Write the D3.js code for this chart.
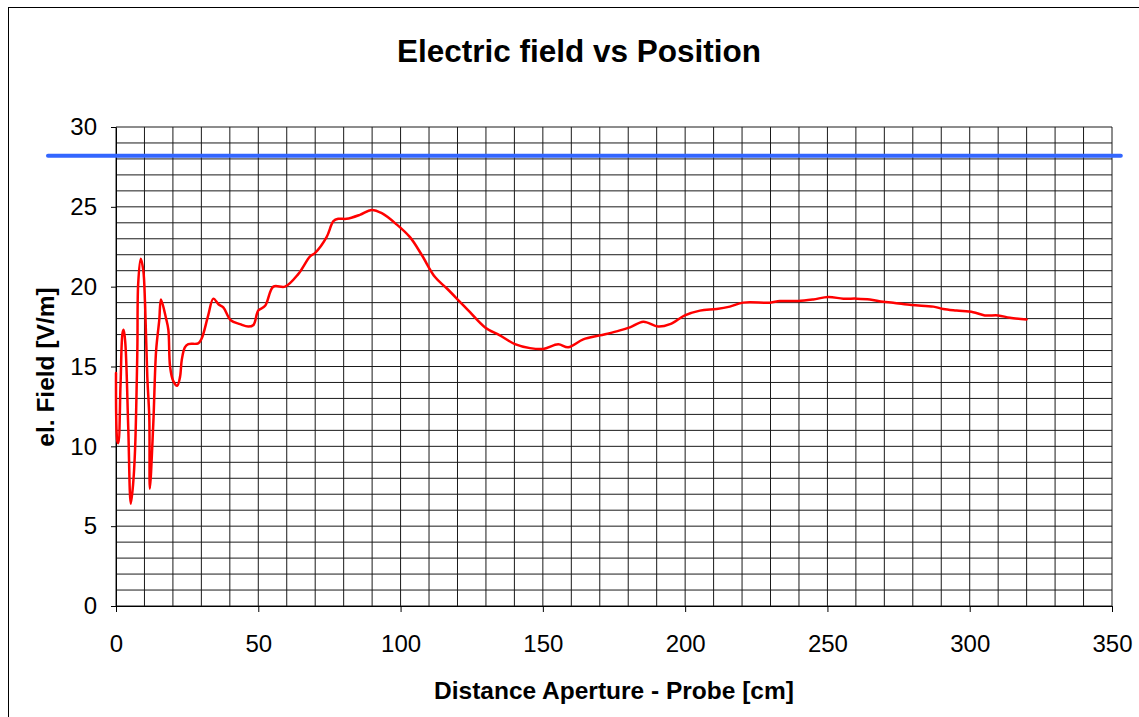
<!DOCTYPE html>
<html>
<head>
<meta charset="utf-8">
<script src="https://cdn.jsdelivr.net/npm/d3@7"></script>
<style>
  html, body { margin: 0; padding: 0; background: #fff; }
  svg { display: block; font-family: "Liberation Sans", Arial, sans-serif; }
</style>
</head>
<body>
<svg id="chart" width="1139" height="717"></svg>
<script>
// Measured field strength along the aperture-probe distance
const distanceCm = [
  0, 0.5, 0.8, 1.6, 2.3, 2.7, 3.3, 4.3, 5.2, 6.0, 6.7, 7.5, 7.8, 8.7, 9.6, 10.2, 11.0, 11.7, 11.9,
  13.1, 14.1, 15.2, 15.8, 17.6, 18.4, 19.0, 20.1, 21.5, 22.5, 23.1, 24.2, 25.4, 28.9, 30.1, 32.4,
  34.2, 36.0, 37.7, 40.3, 43.6, 46.5, 48.3, 50.0, 52.4, 55.3, 59.4, 64.1, 68.2, 69.9, 74.0, 76.4,
  78.1, 81.0, 85.7, 89.8, 93.4, 98.6, 103.3, 107.4, 112.1, 116.2, 120.6, 124.4, 129.7, 134.9,
  140.2, 145.5, 150.1, 155.4, 158.9, 164.2, 170.1, 175.9, 180.6, 185.3, 190.5, 194.7, 199.9,
  205.2, 211.1, 215.7, 220.4, 229.8, 233.3, 239.7, 245.0, 250.3, 255.6, 260.3, 264.9, 269.6,
  273.1, 279.6, 287.2, 290.7, 295.4, 301.2, 305.3, 310.0, 314.1, 320.0
];
const fieldVm = [
  14.6, 10.3, 10.2, 13.9, 17.1, 17.3, 16.4, 11.2, 6.4, 7.6, 9.8, 16.0, 20.2, 21.75, 21.0, 19.0, 14.35, 11.8, 7.35,
  11.4, 16.0, 17.9, 19.2, 18.0, 17.3, 15.0, 14.1, 13.8, 14.35, 15.4, 16.2, 16.4, 16.45, 16.75, 18.2,
  19.25, 18.9, 18.7, 17.9, 17.65, 17.5, 17.6, 18.5, 18.8, 20.0, 20.0, 20.8, 21.9, 22.1, 23.1, 24.1,
  24.25, 24.25, 24.5, 24.8, 24.6, 23.9, 23.1, 22.0, 20.6, 19.9, 19.1, 18.4, 17.45, 16.95,
  16.4, 16.15, 16.1, 16.4, 16.2, 16.7, 16.95, 17.2, 17.45, 17.8, 17.5, 17.65, 18.2,
  18.5, 18.6, 18.75, 19.0, 19.0, 19.1, 19.1, 19.2, 19.35, 19.25, 19.25, 19.2, 19.05,
  19.0, 18.85, 18.75, 18.6, 18.5, 18.4, 18.2, 18.2, 18.05, 17.95
];

// Reference limit line
const limitValue = 28.2;
const limitSpanCm = [-23.9, 353.1];

// Axis ticks
const xTicks = [0, 50, 100, 150, 200, 250, 300, 350];
const yTicks = [0, 5, 10, 15, 20, 25, 30];

const titleText = "Electric field vs Position";
const xLabelText = "Distance Aperture - Probe [cm]";
const yLabelText = "el. Field [V/m]";

const svg = d3.select("#chart");

const x = d3.scaleLinear().domain([0, 350]).range([116, 1112]);
const y = d3.scaleLinear().domain([0, 30]).range([606, 127]);

// Outer chart frame
svg.append("rect")
  .attr("x", 8.5).attr("y", 7.5)
  .attr("width", 1140).attr("height", 720)
  .attr("fill", "#fff").attr("stroke", "#000").attr("stroke-width", 1);

// Grid: every 10 cm and every 1 V/m
const grid = svg.append("g").attr("stroke", "#1a1a1a").attr("stroke-width", 1);
grid.selectAll("line.v").data(d3.range(0, 351, 10)).join("line")
  .attr("x1", d => x(d)).attr("x2", d => x(d))
  .attr("y1", y(0)).attr("y2", y(30));
grid.selectAll("line.h").data(d3.range(0, 31, 1)).join("line")
  .attr("x1", x(0)).attr("x2", x(350))
  .attr("y1", d => y(d)).attr("y2", d => y(d));

// Axes
const xAxis = d3.axisBottom(x).tickValues(xTicks).tickSizeInner(6).tickSizeOuter(0).tickPadding(23);
const yAxis = d3.axisLeft(y).tickValues(yTicks).tickSizeInner(5).tickSizeOuter(0).tickPadding(14);

const gx = svg.append("g").attr("transform", `translate(0,${y(0)})`).call(xAxis);
const gy = svg.append("g").attr("transform", `translate(${x(0)},0)`).call(yAxis);
[gx, gy].forEach(g => {
  g.select(".domain").attr("stroke", "#000").attr("stroke-width", 1);
  g.selectAll(".tick line").attr("stroke", "#000");
  g.selectAll(".tick text").attr("fill", "#000")
    .style("font-family", "'Liberation Sans', Arial, sans-serif").style("font-size", "24px");
});

// Measured curve
const pts = distanceCm.map((d, i) => [d, fieldVm[i]]);
const line = d3.line().x(d => x(d[0])).y(d => y(d[1])).curve(d3.curveCatmullRom.alpha(0.5));
svg.append("path").datum(pts)
  .attr("d", line)
  .attr("fill", "none").attr("stroke", "#ff0000").attr("stroke-width", 2.5)
  .attr("stroke-linejoin", "round").attr("stroke-linecap", "round");

// Limit line
svg.append("line")
  .attr("x1", x(limitSpanCm[0])).attr("x2", x(limitSpanCm[1]))
  .attr("y1", y(limitValue)).attr("y2", y(limitValue))
  .attr("stroke", "#3366ff").attr("stroke-width", 4).attr("stroke-linecap", "round");

// Titles
svg.append("text").attr("x", 579).attr("y", 62).attr("text-anchor", "middle")
  .style("font-size", "31.5px").style("font-weight", "bold").text(titleText);
svg.append("text").attr("x", 614).attr("y", 699).attr("text-anchor", "middle")
  .style("font-size", "24.5px").style("font-weight", "bold").text(xLabelText);
svg.append("text").attr("transform", "translate(54,367) rotate(-90)").attr("text-anchor", "middle")
  .style("font-size", "24.5px").style("font-weight", "bold").text(yLabelText);
</script>
</body>
</html>
